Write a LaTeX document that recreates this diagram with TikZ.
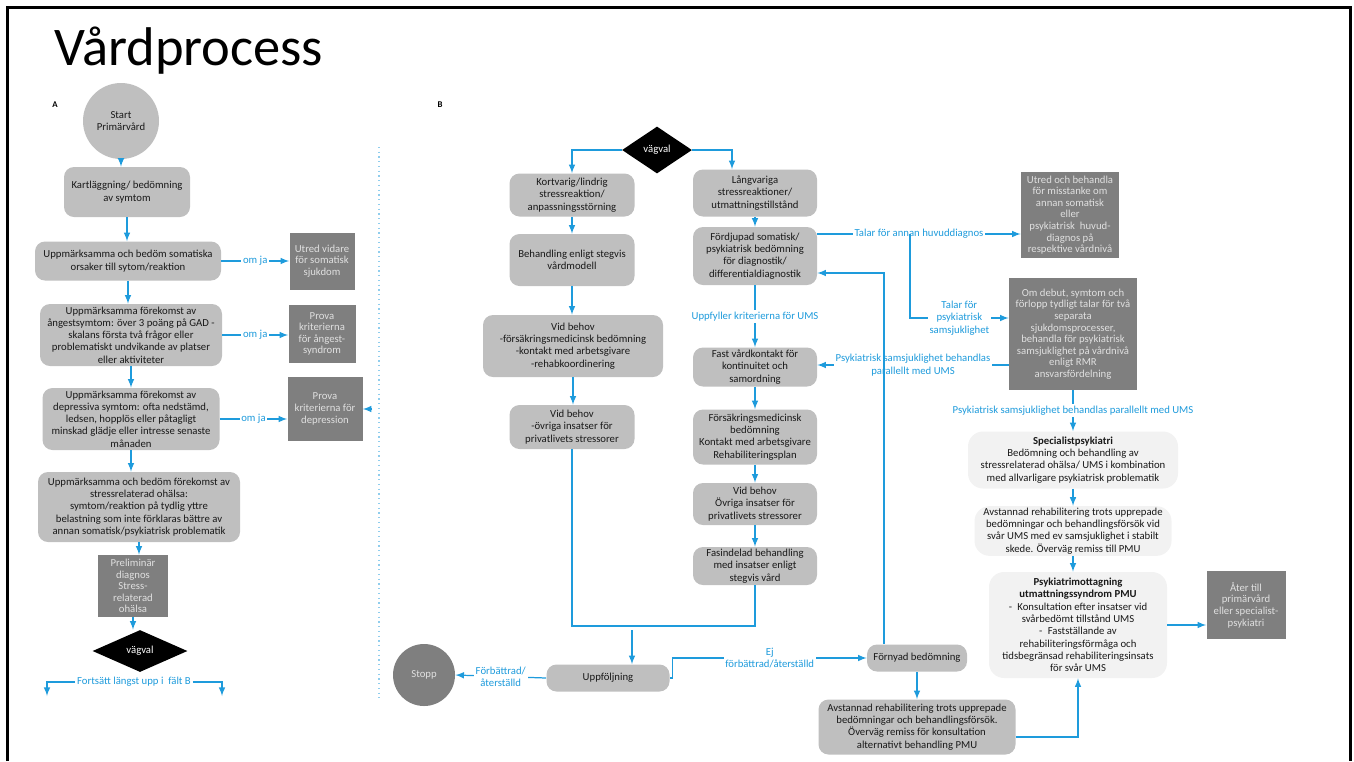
\documentclass[tikz,border=0pt]{standalone}
\usepackage{fontspec}
\setmainfont{Carlito}
\usetikzlibrary{shapes.geometric}
\definecolor{flowblue}{RGB}{30,155,220}
\definecolor{boxgray}{RGB}{191,191,191}
\definecolor{darkbox}{RGB}{127,127,127}
\definecolor{lightbox}{RGB}{242,242,242}
\newcommand{\boxfont}{\fontsize{6.1}{7}\selectfont}
\newcommand{\darkfont}{\fontsize{6.1}{6.6}\selectfont}

\begin{document}
\begin{tikzpicture}[x=0.02cm,y=-0.02cm,
    wh/.style 2 args={minimum width=#1*0.02cm,minimum height=#2*0.02cm},
    gbox/.style={fill=boxgray,rounded corners=0.2cm,align=center,font=\boxfont,text=black!90,inner sep=1pt},
    dbox/.style={fill=darkbox,align=center,font=\darkfont,text=white!88!black,inner sep=1pt},
    lbox/.style={fill=lightbox,rounded corners=0.3cm,align=center,font=\boxfont,text=black!90,inner sep=1pt},
    fork/.style={diamond,fill=black,text=white,font=\boxfont,inner sep=0pt},
    flow/.style={draw=flowblue,line width=0.7pt,-latex},
    lbl/.style={text=flowblue,font=\boxfont,fill=white,inner sep=1pt,align=center}]
      \useasboundingbox (0,0) rectangle (1354,761) ;
      \draw[line width=1.7pt] (7.5,761) -- (7.5,7.5) -- (1350.5,7.5) -- (1350.5,761) ;
      \node[anchor=base west,font=\fontsize{31}{31}\selectfont] (title) at (48,65) {Vårdprocess} ;
      \node[font=\fontsize{5}{6}\selectfont\bfseries] (labA) at (55,105) {A} ;
      \node[font=\fontsize{5}{6}\selectfont\bfseries] (labB) at (440,105) {B} ;
      \draw[flowblue!50,dotted,line width=0.7pt] (379,147) -- (379,698) ;
      % falt A
      \node[gbox,circle,wh={76}{76}] (start) at (121,121) {Start\\Primärvård} ;
      \node[gbox,wh={126}{50}] (kart) at (127,192) {Kartläggning/ bedömning\\av symtom} ;
      \node[gbox,wh={186}{39}] (somat) at (128,261) {Uppmärksamma och bedöm somatiska\\orsaker till sytom/reaktion} ;
      \node[gbox,wh={182}{62}] (angest) at (131,335) {Uppmärksamma förekomst av\\ångestsymtom: över 3 poäng på GAD -\\skalans första två frågor eller\\problematiskt undvikande av platser\\eller aktiviteter} ;
      \node[gbox,wh={177}{62}] (depr) at (131,419) {Uppmärksamma förekomst av\\depressiva symtom: ofta nedstämd,\\ledsen, hopplös eller påtagligt\\minskad glädje eller intresse senaste\\månaden} ;
      \node[gbox,wh={202}{70}] (stressoh) at (139,507) {Uppmärksamma och bedöm förekomst av\\stressrelaterad ohälsa:\\symtom/reaktion på tydlig yttre\\belastning som inte förklaras bättre av\\annan somatisk/psykiatrisk problematik} ;
      \node[dbox,wh={70}{62}] (prelim) at (133,586) {Preliminär\\diagnos\\Stress-\\relaterad\\ohälsa} ;
      \node[fork,aspect=2.26,wh={95}{42}] (vagA) at (140,651) {vägval} ;
      \node[dbox,wh={65}{57}] (utredA) at (322,261) {Utred vidare\\för somatisk\\sjukdom} ;
      \node[dbox,wh={67}{58}] (provaA) at (322,334) {Prova\\kriterierna\\för ångest-\\syndrom} ;
      \node[dbox,wh={75}{64}] (provaD) at (325,409) {Prova\\kriterierna för\\depression} ;
      \node[lbl] (fort) at (134,682) {Fortsätt längst upp i \ fält B} ;
      \coordinate (fortL) at (47,696) ;
      \coordinate (fortR) at (222,696) ;
      \coordinate (dstub) at (372,409) ;
      \draw[flow] (start) -- (start |- kart.north) ;
      \draw[flow] (kart) -- (kart |- somat.north) ;
      \draw[flow] (somat) -- (somat |- angest.north) ;
      \draw[flow] (angest) -- (angest |- depr.north) ;
      \draw[flow] (depr) -- (depr |- stressoh.north) ;
      \draw[flow] (stressoh) -- (stressoh |- prelim.north) ;
      \draw[flow] (prelim) -- (prelim |- vagA.north) ;
      \draw[flow] (somat.east) -- node[lbl]{om ja} (somat.east -| utredA.west) ;
      \draw[flow] (angest.east) -- node[lbl]{om ja} (angest.east -| provaA.west) ;
      \draw[flow] (depr.east) -- node[lbl]{om ja} (depr.east -| provaD.west) ;
      \draw[flow] (dstub) -- (provaD.east) ;
      \draw[flow] (fort.west) -| (fortL) ;
      \draw[flow] (fort.east) -| (fortR) ;
      % falt B
      \node[fork,aspect=1.49,wh={70}{47}] (vagB) at (657,150) {vägval} ;
      \node[gbox,wh={125}{43}] (kort) at (572,195) {Kortvarig/lindrig\\stressreaktion/\\anpassningsstörning} ;
      \node[gbox,wh={125}{52}] (beh) at (572,260) {Behandling enligt stegvis\\vårdmodell} ;
      \node[gbox,wh={180}{62}] (vb1) at (573,346) {Vid behov\\-försäkringsmedicinsk bedömning\\-kontakt med arbetsgivare\\-rehabkoordinering} ;
      \node[gbox,wh={125}{44}] (vb2) at (572,427) {Vid behov\\-övriga insatser för\\privatlivets stressorer} ;
      \node[gbox,wh={124}{47}] (lang) at (755,193) {Långvariga\\stressreaktioner/\\utmattningstillstånd} ;
      \node[gbox,wh={124}{58}] (fdj) at (755,256) {Fördjupad somatisk/\\psykiatrisk bedömning\\för diagnostik/\\differentialdiagnostik} ;
      \node[gbox,wh={124}{39}] (fast) at (755,367) {Fast vårdkontakt för\\kontinuitet och\\samordning} ;
      \node[gbox,wh={124}{55}] (fmed) at (755,437) {Försäkringsmedicinsk\\bedömning\\Kontakt med arbetsgivare\\Rehabiliteringsplan} ;
      \node[gbox,wh={124}{42}] (vb3) at (755,504) {Vid behov\\Övriga insatser för\\privatlivets stressorer} ;
      \node[gbox,wh={124}{38}] (fas) at (755,566) {Fasindelad behandling\\med insatser enligt\\stegvis vård} ;
      \node[gbox,wh={123}{27}] (upp) at (608,678) {Uppföljning} ;
      \node[dbox,circle,wh={62}{62}] (stopp) at (424,675) {Stopp} ;
      \node[gbox,wh={100}{27}] (forn) at (917,658) {Förnyad bedömning} ;
      \node[gbox,wh={197}{55}] (avst) at (917,727) {Avstannad rehabilitering trots upprepade\\bedömningar och behandlingsförsök.\\Överväg remiss för konsultation\\alternativt behandling PMU} ;
      \node[dbox,wh={98}{86}] (utredB) at (1070,215) {Utred och behandla\\för misstanke om\\annan somatisk\\eller\\psykiatrisk \ huvud-\\diagnos på\\respektive vårdnivå} ;
      \node[dbox,wh={128}{112}] (omdeb) at (1073,334) {Om debut, symtom och\\förlopp tydligt talar för två\\separata\\sjukdomsprocesser,\\behandla för psykiatrisk\\samsjuklighet på vårdnivå\\enligt RMR\\ansvarsfördelning} ;
      \node[lbox,wh={210}{57}] (spec) at (1073,460) {\textbf{Specialistpsykiatri}\\Bedömning och behandling av\\stressrelaterad ohälsa/ UMS i kombination\\med allvarligare psykiatrisk problematik} ;
      \node[lbox,wh={197}{49}] (avst2) at (1073,531) {Avstannad rehabilitering trots upprepade\\bedömningar och behandlingsförsök vid\\svår UMS med ev samsjuklighet i stabilt\\skede. Överväg remiss till PMU} ;
      \node[lbox,wh={178}{106}] (pmu) at (1078,625) {\textbf{Psykiatrimottagning}\\\textbf{utmattningssyndrom PMU}\\-\enspace Konsultation efter insatser vid\\svårbedömt tillstånd UMS\\-\enspace Fastställande av\\rehabiliteringsförmåga och\\tidsbegränsad rehabiliteringsinsats\\för svår UMS} ;
      \node[dbox,wh={79}{68}] (ater) at (1246,605) {Åter till\\primärvård\\eller specialist-\\psykiatri} ;
      \coordinate (merge) at (632,626) ;
      \coordinate (split) at (910,234) ;
      \draw[flow] (vagB.west) -| (kort.north) ;
      \draw[flow] (vagB.east) -| ([xshift=-0.46cm]lang.north) ;
      \draw[flow] (kort) -- (beh) ;
      \draw[flow] (beh) -- (beh |- vb1.north) ;
      \draw[flow] (vb1) -- (vb1 |- vb2.north) ;
      \draw[flow] (lang) -- (fdj) ;
      \draw[flow] (fdj) -- node[lbl]{Uppfyller kriterierna för UMS} (fast) ;
      \draw[flow] (fast) -- (fmed) ;
      \draw[flow] (fmed) -- (vb3) ;
      \draw[flow] (vb3) -- (fas) ;
      \draw[flowblue,line width=0.7pt] (vb2.south) |- (merge) -| (fas.south) ;
      \draw[flow] ([yshift=-0.08cm]merge) -- (merge |- upp.north) ;
      \draw[flow] (upp.west) -- node[lbl]{Förbättrad/\\återställd} (stopp.east) ;
      \draw[flow] (upp.east) -- ++(3,0) |- node[pos=0.75,lbl]{Ej\\förbättrad/återställd} (forn.west) ;
      \draw[flow] ([yshift=0.44cm]fdj.east) coordinate (t1) -- node[lbl]{Talar för annan huvuddiagnos} (t1 -| utredB.west) ;
      \draw[flow] (split) |- node[pos=0.75,lbl]{Talar för\\psykiatrisk\\samsjuklighet} (omdeb.west |- 0,318) ;
      \draw[flow] ([yshift=-0.62cm]omdeb.west) coordinate (t2) -- node[lbl]{Psykiatrisk samsjuklighet behandlas\\parallellt med UMS} (t2 -| fast.east) ;
      \draw[flow] ([xshift=-0.66cm]forn.north) |- ([yshift=-0.34cm]fdj.east) ;
      \draw[flow] (forn) -- (avst) ;
      \draw[flow] ([yshift=-0.2cm]avst.east) -| (pmu.south) ;
      \draw[flow] (omdeb) -- node[lbl]{Psykiatrisk samsjuklighet behandlas parallellt med UMS} (spec) ;
      \draw[flow] (spec) -- (avst2) ;
      \draw[flow] (avst2) -- (avst2 |- pmu.north) ;
      \draw[flow] (pmu.east) -- (pmu.east -| ater.west) ;
    \end{tikzpicture}
\end{document}
